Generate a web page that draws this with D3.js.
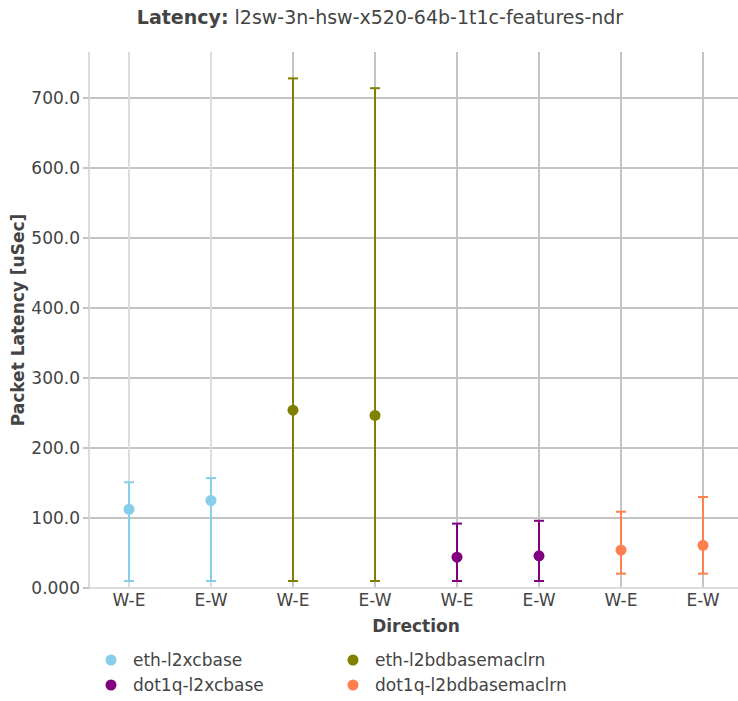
<!DOCTYPE html>
<html>
<head>
<meta charset="utf-8">
<script src="https://cdn.jsdelivr.net/npm/d3@7"></script>
<style>
  body { margin: 0; background: #fff; }
  text { font-family: "DejaVu Sans", sans-serif; fill: #444; }
</style>
</head>
<body>
<svg id="chart" width="738" height="701"></svg>
<script>
// latency chart

var directions = ["W-E", "E-W"];
var seriesNames = ["eth-l2xcbase", "eth-l2bdbasemaclrn", "dot1q-l2xcbase", "dot1q-l2bdbasemaclrn"];
var seriesColors = ["#87ceeb", "#808000", "#800080", "#ff7f50"];
var avgValues = [[112.5, 125], [254, 246.5], [44, 46], [54, 61]];
var minValues = [[10, 10], [10, 10], [10, 10], [20.5, 20.5]];
var maxValues = [[151, 157], [728, 714], [92, 96], [109, 130]];
var yTicks = [0, 100, 200, 300, 400, 500, 600, 700];
var yTickLabels = ["0.000", "100.0", "200.0", "300.0", "400.0", "500.0", "600.0", "700.0"];

var svg = d3.select("#chart"),
    plotLeft = 89, plotRight = 738, plotTop = 52, plotBottom = 588;

var x = d3.scaleLinear()
    .domain([0, seriesNames.length * directions.length - 1])
    .range([129, 703]);

var y = d3.scaleLinear()
    .domain([0, 765.7])
    .range([plotBottom, plotTop]);

// flatten into points
var points = [];
seriesNames.forEach(function (name, s) {
    directions.forEach(function (dir, j) {
        points.push({
            series: s, dir: dir, idx: s * 2 + j,
            avg: avgValues[s][j], min: minValues[s][j], max: maxValues[s][j]
        });
    });
});

// grid
svg.append("g").selectAll("line")
    .data(yTicks.slice(1))
    .enter().append("line")
    .attr("x1", plotLeft).attr("x2", plotRight)
    .attr("y1", function (d) { return Math.round(y(d)); })
    .attr("y2", function (d) { return Math.round(y(d)); })
    .attr("stroke", "#c4c4c4")
    .attr("stroke-width", 2);

svg.append("g").selectAll("line")
    .data(points)
    .enter().append("line")
    .attr("x1", function (d) { return Math.round(x(d.idx)); })
    .attr("x2", function (d) { return Math.round(x(d.idx)); })
    .attr("y1", plotTop).attr("y2", plotBottom)
    .attr("stroke", function (d) { return d.idx < 2 ? "#dcdcdc" : "#c4c4c4"; })
    .attr("stroke-width", 2);

// left edge and zero line
svg.append("line")
    .attr("x1", plotLeft).attr("x2", plotLeft).attr("y1", plotTop).attr("y2", plotBottom)
    .attr("stroke", "#dcdcdc").attr("stroke-width", 2);
svg.append("line")
    .attr("x1", plotLeft).attr("x2", plotRight).attr("y1", plotBottom).attr("y2", plotBottom)
    .attr("stroke", "#dcdcdc").attr("stroke-width", 2);

// y ticks
var yAxis = svg.append("g");
yAxis.selectAll("line")
    .data(yTicks)
    .enter().append("line")
    .attr("x1", plotLeft - 6).attr("x2", plotLeft)
    .attr("y1", function (d) { return Math.round(y(d)); })
    .attr("y2", function (d) { return Math.round(y(d)); })
    .attr("stroke", "#c4c4c4")
    .attr("stroke-width", 2);
yAxis.selectAll("text")
    .data(yTicks)
    .enter().append("text")
    .attr("x", 80)
    .attr("y", function (d) { return y(d); })
    .attr("dy", "0.36em")
    .attr("text-anchor", "end")
    .style("font-size", "17px")
    .text(function (d, i) { return yTickLabels[i]; });

// x tick labels
svg.append("g").selectAll("text")
    .data(points)
    .enter().append("text")
    .attr("x", function (d) { return x(d.idx); })
    .attr("y", 606)
    .attr("text-anchor", "middle")
    .style("font-size", "17px")
    .text(function (d) { return d.dir; });

// error bars
var bars = svg.append("g").selectAll("g")
    .data(points)
    .enter().append("g")
    .attr("stroke", function (d) { return seriesColors[d.series]; })
    .attr("stroke-width", 2);

bars.append("line")
    .attr("x1", function (d) { return x(d.idx); })
    .attr("x2", function (d) { return x(d.idx); })
    .attr("y1", function (d) { return y(d.min); })
    .attr("y2", function (d) { return y(d.max); });
bars.append("line")
    .attr("x1", function (d) { return x(d.idx) - 5; })
    .attr("x2", function (d) { return x(d.idx) + 5; })
    .attr("y1", function (d) { return y(d.min); })
    .attr("y2", function (d) { return y(d.min); });
bars.append("line")
    .attr("x1", function (d) { return x(d.idx) - 5; })
    .attr("x2", function (d) { return x(d.idx) + 5; })
    .attr("y1", function (d) { return y(d.max); })
    .attr("y2", function (d) { return y(d.max); });

svg.append("g").selectAll("circle")
    .data(points)
    .enter().append("circle")
    .attr("cx", function (d) { return x(d.idx); })
    .attr("cy", function (d) { return y(d.avg); })
    .attr("r", 5.5)
    .attr("fill", function (d) { return seriesColors[d.series]; });

// titles
var title = svg.append("text")
    .attr("x", 380)
    .attr("y", 24)
    .attr("text-anchor", "middle")
    .style("font-size", "19px");
title.append("tspan").style("font-weight", "bold").text("Latency:");
title.append("tspan").text(" l2sw-3n-hsw-x520-64b-1t1c-features-ndr");

svg.append("text")
    .attr("x", 416)
    .attr("y", 632)
    .attr("text-anchor", "middle")
    .style("font-size", "17px")
    .style("font-weight", "bold")
    .text("Direction");

svg.append("text")
    .attr("transform", "translate(24," + (plotTop + plotBottom) / 2 + ") rotate(-90)")
    .attr("text-anchor", "middle")
    .style("font-size", "17px")
    .style("font-weight", "bold")
    .text("Packet Latency [uSec]");

// legend
var legend = svg.append("g").selectAll("g")
    .data(seriesNames)
    .enter().append("g")
    .attr("transform", function (d, i) {
        return "translate(" + (i % 2 === 0 ? 111 : 353) + "," + (i < 2 ? 660 : 685) + ")";
    });
legend.append("circle")
    .attr("r", 5.5)
    .attr("fill", function (d) { return seriesColors[seriesNames.indexOf(d)]; });
legend.append("text")
    .attr("x", 22)
    .attr("dy", "0.36em")
    .style("font-size", "17px")
    .text(function (d) { return d; });
</script>
</body>
</html>
